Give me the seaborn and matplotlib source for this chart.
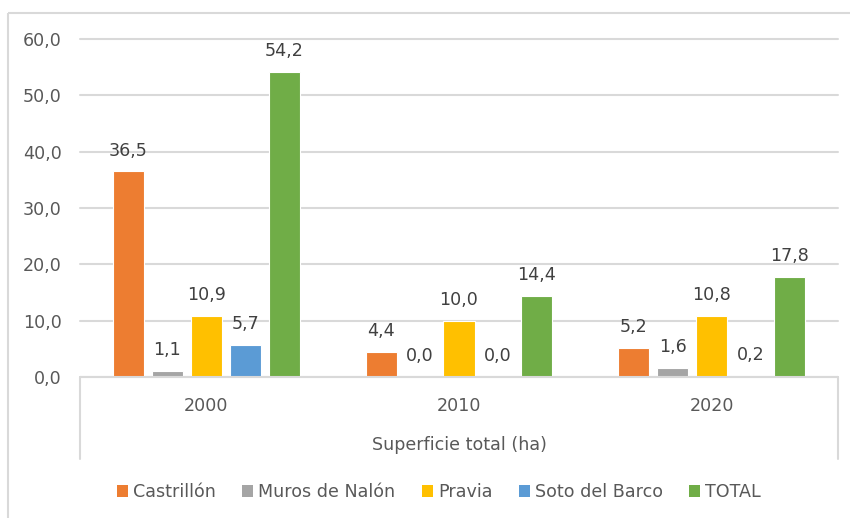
import matplotlib
matplotlib.use("Agg")
import matplotlib.pyplot as plt
import matplotlib.patches as mpatches
from matplotlib.lines import Line2D
import seaborn as sns
import pandas as pd

# ---- data ----
years = ["2000", "2010", "2020"]
municipios = ["Castrillón", "Muros de Nalón", "Pravia", "Soto del Barco", "TOTAL"]
castrillon = [36.5, 4.4, 5.2]
muros = [1.1, 0.0, 1.6]
pravia = [10.9, 10.0, 10.8]
soto = [5.7, 0.0, 0.2]
total = [54.2, 14.4, 17.8]
colors = ["#ED7D31", "#A5A5A5", "#FFC000", "#5B9BD5", "#70AD47"]
y_ticks = [0, 10, 20, 30, 40, 50, 60]
axis_title = "Superficie total (ha)"

series = [castrillon, muros, pravia, soto, total]
rows = []
for name, vals in zip(municipios, series):
    for yr, v in zip(years, vals):
        rows.append({"year": yr, "municipio": name, "value": v})
df = pd.DataFrame(rows)

sns.set_theme(style="white")
plt.rcParams["font.family"] = ["DejaVu Sans"]

W, H, DPI = 851, 518, 100
fig = plt.figure(figsize=(W / DPI, H / DPI), dpi=DPI, frameon=False)
left, right, top, bottom = 80, 838, 39, 377
ax = fig.add_axes([left / W, 1 - bottom / H, (right - left) / W, (bottom - top) / H])

sns.barplot(data=df, x="year", y="value", hue="municipio", order=years,
            hue_order=municipios, palette=colors, width=0.77, gap=0.2,
            edgecolor="white", linewidth=0.8, saturation=1, ax=ax, legend=False,
            errorbar=None)

fs = 12.6
txt_col = "#595959"
for cont in ax.containers:
    ax.bar_label(cont, fmt=lambda v: f"{v:.1f}".replace(".", ","), padding=8.5,
                 fontsize=fs, color="#404040")

ax.set_xlim(-0.5, 2.5)
ax.set_ylim(0, 60)
ax.set_yticks(y_ticks)
ax.set_yticklabels([f"{t:.1f}".replace(".", ",") for t in y_ticks], fontsize=fs, color=txt_col)
ax.tick_params(axis="y", length=0, pad=13)
ax.tick_params(axis="x", length=0, pad=14.2, labelsize=fs, labelcolor=txt_col)
ax.set_xlabel("")
ax.set_ylabel("")
ax.yaxis.grid(True, color="#d9d9d9", linewidth=1.5)
ax.set_axisbelow(True)
for gl in ax.get_ygridlines():
    gl.set_clip_on(False)
for s in ax.spines.values():
    s.set_visible(False)

# category axis lines (multi-level box)
depth = -(459 - 377) / (bottom - top)
ax.add_line(Line2D([0, 1], [0, 0], transform=ax.transAxes, color="#d9d9d9", lw=1.5, clip_on=False))
ax.add_line(Line2D([0, 0], [0, depth], transform=ax.transAxes, color="#d9d9d9", lw=1.5, clip_on=False))
ax.add_line(Line2D([1, 1], [0, depth], transform=ax.transAxes, color="#d9d9d9", lw=1.5, clip_on=False))
ax.text(0.5, -(445 - 377) / (bottom - top), axis_title, transform=ax.transAxes,
        ha="center", va="center", fontsize=fs, color=txt_col)

# legend
handles = [mpatches.Patch(facecolor=c, edgecolor="none", label=m) for c, m in zip(colors, municipios)]
fig.legend(handles=handles, loc="center", bbox_to_anchor=(439 / W, 1 - 492 / H), ncol=5,
           frameon=False, fontsize=fs, labelcolor=txt_col, handlelength=0.62, handleheight=0.62,
           handletextpad=0.3, columnspacing=1.5, borderpad=0)

# chart border: only top and left edges are inside the image
bx, by = 8 / W, 1 - 13 / H
fig.add_artist(Line2D([bx, 0.999], [by, by], transform=fig.transFigure, color="#d9d9d9", lw=1.5,
                      solid_capstyle="butt"))
fig.add_artist(Line2D([bx, bx], [0.0, by], transform=fig.transFigure, color="#d9d9d9", lw=1.5,
                      solid_capstyle="butt"))

fig.savefig("out.png", dpi=DPI, facecolor="white")
